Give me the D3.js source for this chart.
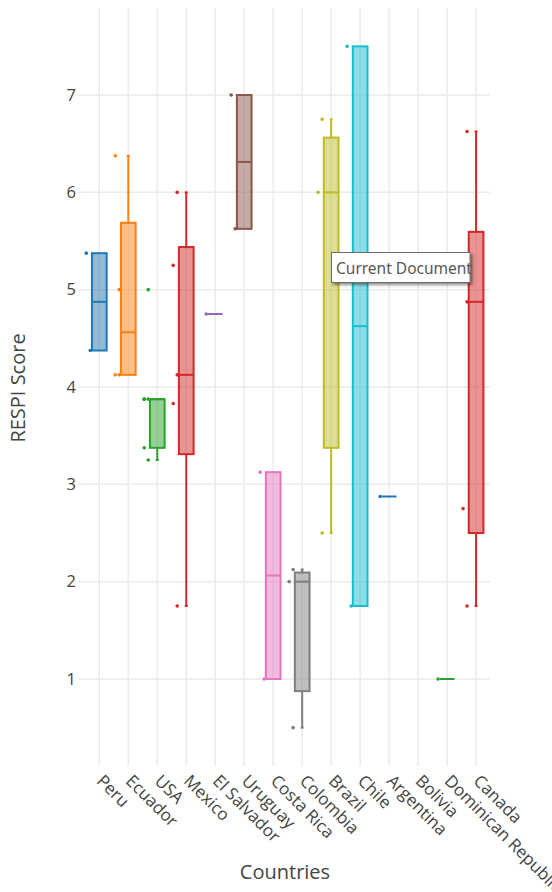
<!DOCTYPE html>
<html>
<head>
<meta charset="utf-8">
<script src="https://cdn.jsdelivr.net/npm/d3@7/dist/d3.min.js"></script>
<style>
  html, body { margin: 0; padding: 0; background: #fff; }
  svg { display: block; }
</style>
</head>
<body>
<svg id="chart" width="552" height="892"></svg>
<script>
// RESPI scores per country (one value per assessment)
const categories = ["Peru", "Ecuador", "USA", "Mexico", "El Salvador", "Uruguay", "Costa Rica",
  "Colombia", "Brazil", "Chile", "Argentina", "Bolivia", "Dominican Republic", "Canada"];

const peru = [4.375, 5.375];
const ecuador = [4.125, 4.125, 5.0, 6.375];
const usa = [3.25, 3.375, 3.875, 3.875, 5.0, 3.875];
const mexico = [1.75, 3.83, 4.125, 5.25, 6.0];
const elSalvador = [4.75];
const uruguay = [5.625, 7.0];
const costaRica = [1.0, 3.125];
const colombia = [0.5, 2.0, 2.125];
const brazil = [2.5, 6.0, 6.75];
const chile = [1.75, 7.5];
const argentina = [2.875];
const bolivia = [];
const dominicanRepublic = [1.0];
const canada = [1.75, 2.75, 4.875, 5.25, 6.625];

const seriesValues = [peru, ecuador, usa, mexico, elSalvador, uruguay, costaRica,
  colombia, brazil, chile, argentina, bolivia, dominicanRepublic, canada];

const yTicks = [1, 2, 3, 4, 5, 6, 7];

const colors = ["#1f77b4", "#ff7f0e", "#2ca02c", "#d62728", "#9467bd", "#8c564b",
  "#e377c2", "#7f7f7f", "#bcbd22", "#17becf"];

// ---- layout ----
const svg = d3.select("#chart");
const plot = { left: 78, right: 490, top: 8, bottom: 766 };
const font = "'Open Sans', 'Noto Sans', sans-serif";
const textColor = "#444";

const x = d3.scaleLinear().domain([-0.735, 13.48]).range([plot.left, plot.right]);
const y = d3.scaleLinear().domain([0.106, 7.894]).range([plot.bottom, plot.top]);

const boxHalf = 7.35;      // half width of a box, px
const pointPos = -1.5;     // points sit to the left of the box
const jitter = 2;

// quartiles by linear interpolation at position n*p + 0.5
function quant(sorted, p) {
  const n = sorted.length;
  let pos = n * p + 0.5;
  pos = Math.max(1, Math.min(n, pos));
  const lo = Math.floor(pos), hi = Math.ceil(pos);
  const f = pos - lo;
  return sorted[lo - 1] + f * (sorted[hi - 1] - sorted[lo - 1]);
}

function boxStats(values) {
  const s = values.slice().sort((a, b) => a - b);
  const q1 = quant(s, 0.25), med = quant(s, 0.5), q3 = quant(s, 0.75);
  const iqr = q3 - q1;
  const lo = s.filter(v => v >= q1 - 1.5 * iqr);
  const hi = s.filter(v => v <= q3 + 1.5 * iqr);
  return { q1, med, q3, lw: d3.min(lo), uw: d3.max(hi) };
}

// ---- grid ----
const grid = svg.append("g");
grid.selectAll("line.v").data(categories).join("line")
  .attr("x1", (d, i) => x(i)).attr("x2", (d, i) => x(i))
  .attr("y1", plot.top).attr("y2", plot.bottom)
  .attr("stroke", "#ebebeb").attr("stroke-width", 1.5);
grid.selectAll("line.h").data(yTicks).join("line")
  .attr("x1", plot.left).attr("x2", plot.right)
  .attr("y1", d => y(d)).attr("y2", d => y(d))
  .attr("stroke", "#ebebeb").attr("stroke-width", 1.5);

// ---- axes labels ----
const yAxis = svg.append("g").attr("transform", `translate(${plot.left - 2},0)`)
  .call(d3.axisLeft(y).tickValues(yTicks).tickSize(0).tickPadding(0).tickFormat(d3.format("d")));
yAxis.select(".domain").remove();
yAxis.selectAll("text").attr("font-family", font).attr("font-size", 16.5).attr("fill", textColor);

const xAxis = svg.append("g").attr("transform", `translate(0,${plot.bottom})`)
  .call(d3.axisBottom(x).tickValues(d3.range(categories.length)).tickSize(0)
    .tickFormat(i => categories[i]));
xAxis.select(".domain").remove();
xAxis.selectAll("text")
  .attr("font-family", font).attr("font-size", 17).attr("fill", textColor)
  .attr("text-anchor", "start")
  .attr("dy", 0).attr("y", 0)
  .attr("transform", "translate(-4,16) rotate(45)");

svg.append("text")
  .attr("transform", `translate(25,388) rotate(-90)`)
  .attr("text-anchor", "middle")
  .attr("font-family", font).attr("font-size", 20).attr("fill", textColor)
  .text("RESPI Score");

svg.append("text")
  .attr("x", 285).attr("y", 879)
  .attr("text-anchor", "middle")
  .attr("font-family", font).attr("font-size", 20).attr("fill", textColor)
  .text("Countries");

// ---- boxes ----
const boxes = svg.append("g");
seriesValues.forEach((vals, i) => {
  if (!vals.length) return;
  const c = colors[i % colors.length];
  const st = boxStats(vals);
  const cx = x(i);
  const g = boxes.append("g");
  // whiskers
  [[st.q3, st.uw], [st.q1, st.lw]].forEach(([a, b]) => {
    if (a === b) return;
    g.append("line").attr("x1", cx).attr("x2", cx).attr("y1", y(a)).attr("y2", y(b))
      .attr("stroke", c).attr("stroke-width", 2);
    g.append("line").attr("x1", cx - 1.5).attr("x2", cx + 1.5).attr("y1", y(b)).attr("y2", y(b))
      .attr("stroke", c).attr("stroke-width", 2);
  });
  g.append("rect")
    .attr("x", cx - boxHalf).attr("width", boxHalf * 2)
    .attr("y", y(st.q3)).attr("height", Math.max(0, y(st.q1) - y(st.q3)))
    .attr("fill", c).attr("fill-opacity", 0.5)
    .attr("stroke", c).attr("stroke-width", 2);
  g.append("line").attr("x1", cx - boxHalf).attr("x2", cx + boxHalf)
    .attr("y1", y(st.med)).attr("y2", y(st.med))
    .attr("stroke", c).attr("stroke-width", 2);
  // all sample points, beside the box
  g.selectAll("circle").data(vals).join("circle")
    .attr("cx", (d, k) => cx + pointPos * boxHalf + (k % 2 === 0 ? jitter : -jitter))
    .attr("cy", d => y(d))
    .attr("r", 1.8)
    .attr("fill", c);
});

// ---- hover tip ----
const defs = svg.append("defs");
const f = defs.append("filter").attr("id", "tipShadow")
  .attr("x", "-10%").attr("y", "-20%").attr("width", "130%").attr("height", "160%");
f.append("feDropShadow").attr("dx", 2).attr("dy", 2).attr("stdDeviation", 1.5)
  .attr("flood-color", "#000").attr("flood-opacity", 0.45);

const tip = svg.append("g");
tip.append("rect")
  .attr("x", 331.5).attr("y", 252.5).attr("width", 138.5).attr("height", 30)
  .attr("fill", "#fff").attr("stroke", "#6e6e6e").attr("stroke-width", 1)
  .attr("filter", "url(#tipShadow)");
tip.append("text")
  .attr("x", 336).attr("y", 274)
  .attr("font-family", "'Noto Sans', 'Open Sans', sans-serif").attr("font-size", 15.5)
  .attr("fill", "#575757")
  .text("Current Document");
</script>
</body>
</html>
